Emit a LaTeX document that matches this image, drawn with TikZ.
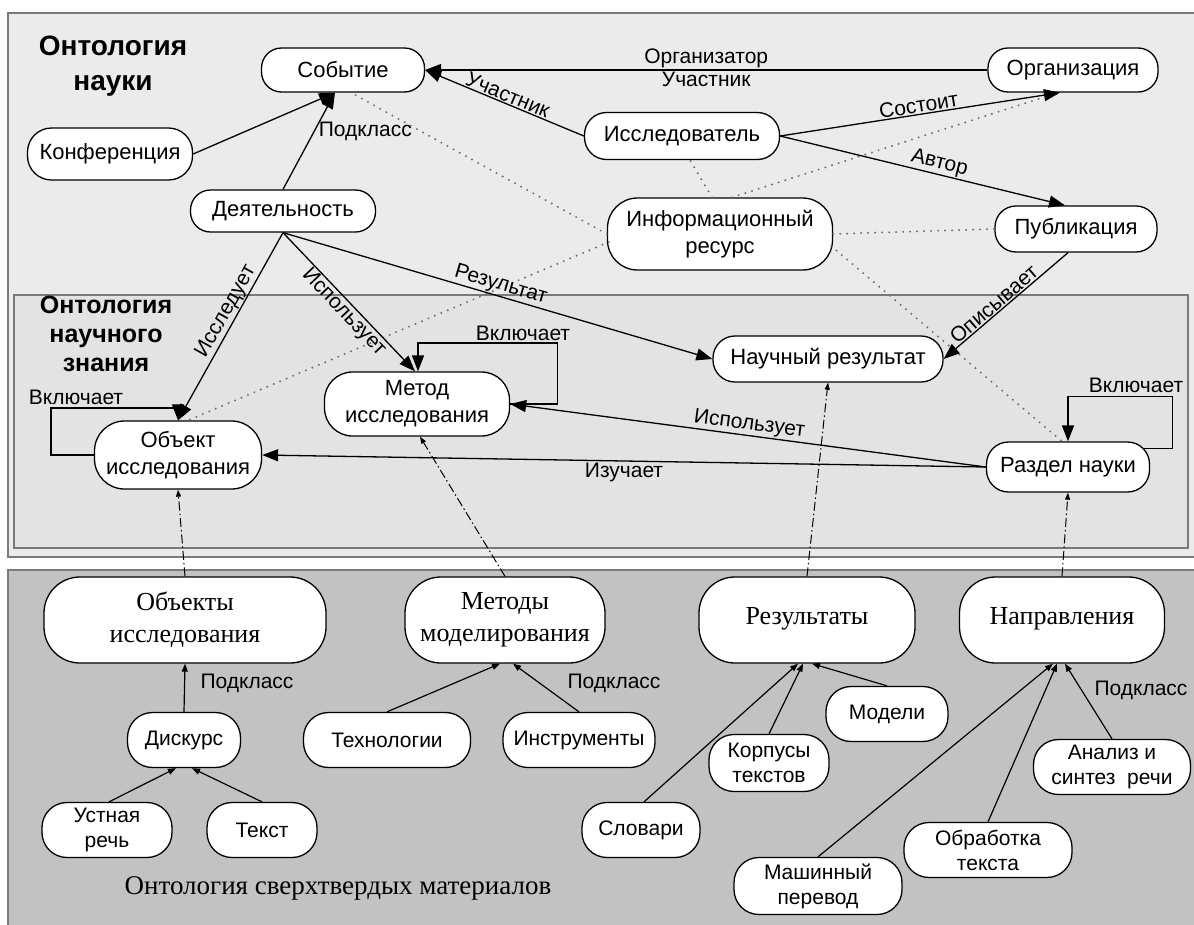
\documentclass[tikz,border=0pt]{standalone}
\usepackage{fontspec}
\setmainfont{Liberation Sans}
\newfontfamily\serfam{Liberation Serif}
\usetikzlibrary{arrows.meta,calc}
\definecolor{topc}{HTML}{EBEBEB}
\definecolor{midc}{HTML}{E3E3E3}
\definecolor{botc}{HTML}{C2C2C2}
\definecolor{frc}{HTML}{7A7A7A}
\definecolor{dotc}{HTML}{6E6E6E}
\newcommand\nfnt{\fontsize{22}{27}\selectfont}
\newcommand\lfnt{\fontsize{21}{25}\selectfont}
\newcommand\sfnt{\fontsize{21}{25}\selectfont}
\newcommand\bfnt{\serfam\fontsize{26}{32}\selectfont}
\begin{document}
\begin{tikzpicture}[x=1pt,y=-1pt,
 nd/.style n args={3}{draw,fill=white,line width=1.3pt,rounded corners=#3,minimum width=#1,minimum height=#2,inner sep=0pt,align=center,font=\nfnt},
 bn/.style n args={3}{nd={#1}{#2}{#3},font=\bfnt},
 sn/.style n args={3}{nd={#1}{#2}{#3},font=\sfnt},
 arr/.style={line width=1.3pt,-{Triangle[length=16pt,width=12pt]}},
 sarr/.style={line width=1.2pt,-{Triangle[length=8pt,width=6pt]}},
 dd/.style={line width=1pt,dash pattern=on 9pt off 3pt on 1.5pt off 3pt,-{Triangle[length=7pt,width=5pt]}},
 dot/.style={line width=2.2pt,dotc,dash pattern=on 0pt off 7pt,line cap=round},
 lab/.style={font=\lfnt,inner sep=1pt},
 frame/.style={draw=frc,line width=2pt}
]
\useasboundingbox (0,0) rectangle (1194,924);
\clip (0,0) rectangle (1194,924);
% frames
\draw[frame,fill=topc] (8,13) rectangle (1210,557);
\draw[frame,fill=midc] (14,295) rectangle (1188,548);
\draw[frame,fill=botc] (8,570) rectangle (1210,940);
% titles
\node[font=\bfseries\fontsize{28}{35}\selectfont,align=center] (t1) at (113,66) {Онтология\\науки};
\node[font=\bfseries\fontsize{25}{29}\selectfont,align=center] (t2) at (106,334) {Онтология\\научного\\знания};
\node[font=\serfam\fontsize{27}{32}\selectfont] (t3) at (338,888) {Онтология сверхтвердых материалов};
% top nodes
\node[nd={163pt}{44pt}{20pt}] (sob) at (343,70) {Событие};
\node[nd={170pt}{44pt}{20pt}] (org) at (1073,70) {Организация};
\node[nd={165pt}{52pt}{24pt}] (kon) at (110,154) {Конференция};
\node[nd={195pt}{47pt}{22pt}] (isl) at (682,136) {Исследователь};
\node[nd={185pt}{42pt}{20pt}] (dey) at (283,211) {Деятельность};
\node[nd={225pt}{72pt}{30pt}] (inf) at (720,234) {Информационный\\ресурс};
\node[nd={162pt}{46pt}{21pt}] (pub) at (1076,229) {Публикация};
% middle nodes
\node[nd={230pt}{46pt}{22pt}] (nr) at (828,359) {Научный результат};
\node[nd={185pt}{64pt}{28pt}] (met) at (417,404) {Метод\\исследования};
\node[nd={167pt}{68pt}{30pt}] (obj) at (178,455) {Объект\\исследования};
\node[nd={163pt}{50pt}{22pt}] (rn) at (1068,467) {Раздел науки};
% bottom nodes
\node[bn={282pt}{86pt}{36pt}] (oi) at (185,620) {Объекты\\исследования};
\node[bn={200pt}{86pt}{36pt}] (mm) at (505,620) {Методы\\моделирования};
\node[bn={216pt}{86pt}{36pt}] (res) at (807,620) {\raisebox{8pt}{Результаты}};
\node[bn={205pt}{86pt}{36pt}] (nap) at (1062,620) {\raisebox{8pt}{Направления}};
\node[sn={113pt}{55pt}{25pt}] (disk) at (184,740) {Дискурс};
\node[sn={167pt}{55pt}{25pt}] (tech) at (387,740) {Технологии};
\node[sn={152pt}{55pt}{25pt}] (instr) at (579,740) {Инструменты};
\node[sn={130pt}{55pt}{25pt}] (ust) at (107,830) {Устная\\речь};
\node[sn={110pt}{55pt}{25pt}] (tekst) at (262,830) {Текст};
\node[sn={118pt}{55pt}{25pt}] (slov) at (641,830) {Словари};
\node[sn={120pt}{57pt}{25pt}] (korp) at (769,763) {Корпусы\\текстов};
\node[sn={122pt}{55pt}{25pt}] (mod) at (887,714) {Модели};
\node[sn={168pt}{57pt}{25pt}] (mash) at (818,886) {Машинный\\перевод};
\node[sn={168pt}{55pt}{25pt}] (obr) at (988,850) {Обработка\\текста};
\node[sn={157pt}{55pt}{25pt}] (an) at (1112,767) {Анализ и\\синтез\ \ речи};
% dotted links
\draw[dot] (inf.west) -- ($(sob.south)+(8,0)$);
\draw[dot] ($(inf.north)+(-8,0)$) -- ($(isl.south)+(8,0)$);
\draw[dot] ($(inf.north)+(12,0)$) -- ($(org.south)+(-15,0)$);
\draw[dot] (inf.east) -- (pub.west);
\draw[dot] ($(inf.east)+(-2,12)$) -- ($(rn.north)+(-6,0)$);
\draw[dot] ($(inf.west)+(2,8)$) -- ($(obj.north)+(10,0)$);
% top arrows
\draw[arr] (org.west) -- node[lab,above]{Организатор} node[lab,below]{Участник} (sob.east);
\draw[arr] (isl.west) -- node[lab,above,sloped]{Участник} (sob.east);
\draw[arr] (kon.east) -- ($(sob.south)+(-8,0)$);
\draw[arr] (dey.north) -- node[lab,pos=0.6,right=3pt]{Подкласс} ($(sob.south)+(-8,0)$);
\draw[arr] (isl.east) -- node[lab,sloped,above]{Состоит} ($(org.south)+(-13,0)$);
\draw[arr] (isl.east) -- node[lab,sloped,above,pos=0.55]{Автор} ($(pub.north)+(-11,0)$);
\draw[arr] (dey.south) -- node[lab,sloped,above,pos=0.45]{Исследует} (obj.north);
\draw[arr] (dey.south) -- node[lab,sloped,below,pos=0.52]{Использует} ($(met.north)+(-2,0)$);
\draw[arr] (dey.south) -- node[lab,sloped,above,pos=0.5]{Результат} (nr.west);
\draw[arr] ($(pub.south)+(-8,0)$) -- node[lab,sloped,above,pos=0.55]{Описывает} (nr.east);
% loops
\draw[arr] (obj.west) -- ++(-43,0) -- ++(0,-47) -| (obj.north);
\node[lab] (lo1) at (76,397) {Включает};
\draw[arr] (met.east) -- ++(47,0) -- ++(0,-61) -| ($(met.north)+(1,0)$);
\node[lab] (lo2) at (523,333) {Включает};
\draw[arr] ($(rn.north east)+(-6,7)$) -- ++(28,0) -- ++(0,-52) -| (rn.north);
\node[lab] (lo3) at (1136,385) {Включает};
% middle arrows
\draw[arr] (rn.west) -- node[lab,sloped,above]{Использует} (met.east);
\draw[arr] (rn.west) -- node[lab,below]{Изучает} (obj.east);
% dash-dot links
\draw[dd] (oi.north) -- (obj.south);
\draw[dd] (mm.north) -- ($(met.south)+(3,0)$);
\draw[dd] (res.north) -- (nr.south);
\draw[dd] (nap.north) -- (rn.south);
% bottom arrows
\draw[sarr] (disk.north) -- (oi.south);
\node[lab] (pk1) at (247,683) {Подкласс};
\draw[sarr] ($(ust.north)+(2,0)$) -- ($(disk.south)+(-8,0)$);
\draw[sarr] (tekst.north) -- ($(disk.south)+(8,0)$);
\draw[sarr] (tech.north) -- ($(mm.south)+(-5,0)$);
\draw[sarr] (instr.north) -- ($(mm.south)+(8,0)$);
\node[lab] (pk2) at (614,683) {Подкласс};
\draw[sarr] ($(slov.north)+(3,0)$) -- ($(res.south)+(-9,0)$);
\draw[sarr] (korp.north) -- ($(res.south)+(-4,0)$);
\draw[sarr] (mod.north) -- ($(res.south)+(5,0)$);
\draw[sarr] (mash.north) -- ($(nap.south)+(-9,0)$);
\draw[sarr] (obr.north) -- ($(nap.south)+(-5,0)$);
\draw[sarr] (an.north) -- ($(nap.south)+(3,0)$);
\node[lab] (pk3) at (1141,690) {Подкласс};
\end{tikzpicture}
\end{document}
